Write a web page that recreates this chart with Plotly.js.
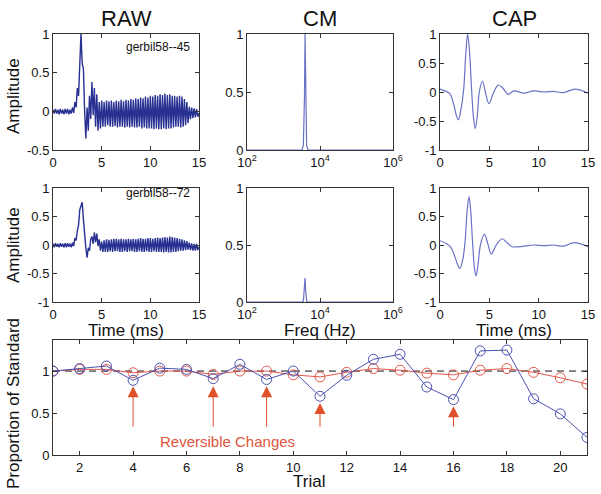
<!DOCTYPE html>
<html>
<head>
<meta charset="utf-8">
<script src="https://cdn.plot.ly/plotly-3.0.1.min.js"></script>
<style>
  html, body { margin: 0; padding: 0; background: #fff; }
  #chart { width: 601px; height: 494px; }
</style>
</head>
<body>
<div id="chart"></div>
<script>
// ---- data ----

// RAW recordings, sampled every 0.125 ms from 0 to 15 ms
var rawStep = 0.125;
var raw45 = [
  0.02, -0.03, 0.03, -0.03, 0.02, -0.04, 0.03, -0.03,
  0.02, -0.04, 0.03, -0.03, 0.03, -0.04, 0.02, -0.03,
  0.05, -0.02, 0.12, 0.05, 0.30, 0.20, 0.60, 1.00,
  0.62, 0.55, 0.00, -0.35, 0.05, -0.25, 0.20, -0.10,
  0.38, -0.05, 0.30, -0.20, 0.22, -0.25, 0.12, -0.22,
  0.14, -0.20, 0.12, -0.20, 0.14, -0.18, 0.13, -0.20,
  0.14, -0.20, 0.12, -0.19, 0.14, -0.21, 0.13, -0.20,
  0.15, -0.20, 0.13, -0.21, 0.15, -0.20, 0.14, -0.21,
  0.16, -0.20, 0.15, -0.21, 0.17, -0.21, 0.16, -0.20,
  0.18, -0.22, 0.17, -0.21, 0.19, -0.22, 0.18, -0.22,
  0.20, -0.22, 0.19, -0.23, 0.21, -0.22, 0.20, -0.23,
  0.22, -0.23, 0.21, -0.22, 0.23, -0.23, 0.21, -0.22,
  0.22, -0.22, 0.20, -0.21, 0.20, -0.20, 0.19, -0.20,
  0.20, -0.21, 0.19, -0.20, 0.16, -0.18, 0.12, -0.15,
  0.06, -0.10, 0.05, -0.09, 0.04, -0.08, 0.03, -0.07,
  -0.02
];
var raw72 = [
  0.02, -0.04, 0.03, -0.03, 0.02, -0.04, 0.03, -0.03,
  0.02, -0.04, 0.03, -0.04, 0.03, -0.03, 0.02, -0.04,
  0.04, -0.02, 0.12, 0.08, 0.25, 0.35, 0.62, 0.68,
  0.75, 0.45, 0.15, -0.05, -0.22, -0.05, -0.10, 0.10,
  0.15, 0.02, 0.22, 0.05, 0.20, -0.02, 0.10, -0.10,
  0.06, -0.12, 0.08, -0.12, 0.10, -0.12, 0.09, -0.11,
  0.10, -0.12, 0.11, -0.11, 0.11, -0.11, 0.10, -0.12,
  0.11, -0.12, 0.10, -0.11, 0.10, -0.12, 0.11, -0.11,
  0.10, -0.11, 0.11, -0.12, 0.10, -0.12, 0.11, -0.11,
  0.12, -0.12, 0.11, -0.12, 0.11, -0.11, 0.12, -0.12,
  0.12, -0.12, 0.11, -0.11, 0.12, -0.12, 0.13, -0.12,
  0.12, -0.12, 0.13, -0.13, 0.14, -0.12, 0.13, -0.13,
  0.15, -0.13, 0.14, -0.12, 0.13, -0.12, 0.12, -0.11,
  0.11, -0.10, 0.10, -0.10, 0.08, -0.09, 0.07, -0.08,
  0.04, -0.09, 0.03, -0.10, 0.02, -0.10, 0.02, -0.09,
  -0.03
];

// CM spectra
var cmFreq = [100, 3200, 3500, 3750, 3900, 4050, 4300, 4700, 1000000];
var cm45 = [0, 0, 0.04, 0.45, 1.00, 0.45, 0.04, 0, 0];
var cm72 = [0, 0, 0.01, 0.10, 0.21, 0.10, 0.01, 0, 0];

// CAP waveforms
var cap45Time = [0, 0.5, 1.0, 1.4, 1.65, 1.86, 2.1, 2.4, 2.6, 2.8, 3.0, 3.2, 3.4, 3.58, 3.8, 3.98, 4.3, 4.6, 4.96, 5.4, 5.9, 6.4, 6.9, 7.5, 8.5, 9.5, 10.5, 11.5, 12.5, 13.7, 15];
var cap45 = [0.05, 0.02, -0.03, -0.22, -0.4, -0.48, -0.32, 0.05, 0.62, 1.0, 0.68, 0.05, -0.45, -0.63, -0.38, 0.0, 0.19, 0.0, -0.2, -0.02, 0.12, 0.06, -0.04, 0.02, -0.02, 0.02, 0.0, 0.01, -0.01, 0.05, -0.02];
var cap72Time = [0, 1.0, 1.5, 1.75, 2.0, 2.25, 2.5, 2.75, 2.94, 3.1, 3.3, 3.5, 3.65, 3.85, 4.1, 4.5, 4.85, 5.2, 5.7, 6.3, 6.8, 7.3, 8.5, 9.5, 10.5, 11.5, 12.5, 13.6, 15];
var cap72 = [0.075, -0.02, -0.2, -0.33, -0.41, -0.3, -0.02, 0.6, 0.85, 0.62, 0.05, -0.42, -0.54, -0.35, 0.0, 0.19, 0.02, -0.16, 0.0, 0.11, 0.04, -0.03, -0.02, 0.0, -0.01, 0.0, -0.02, 0.04, -0.03];

// proportion of standard per trial
var trials = [1, 2, 3, 4, 5, 6, 7, 8, 9, 10, 11, 12, 13, 14, 15, 16, 17, 18, 19, 20, 21];
var capRatio = [1.0, 1.03, 1.06, 0.89, 1.035, 1.02, 0.91, 1.08, 0.90, 1.0, 0.70, 0.95, 1.14, 1.20, 0.81, 0.66, 1.24, 1.25, 0.67, 0.49, 0.21];
var cmRatio = [1.0, 1.02, 1.02, 0.98, 1.0, 1.0, 0.96, 1.0, 1.0, 0.955, 0.93, 0.985, 1.03, 1.01, 0.975, 0.955, 1.01, 1.03, 0.985, 0.92, 0.845];
var standardLevel = 1;

// arrows marking the reversible changes
var arrowTrials = [4, 7, 9, 11, 16];
var arrowTips = [0.82, 0.82, 0.82, 0.62, 0.58];
var arrowTail = 0.32;

// ---- helpers ----
function sampleTimes(values, step) {
  var t = [];
  for (var i = 0; i < values.length; i++) t.push(i * step);
  return t;
}

// px helpers, the figure is 601 x 494
var W = 601, H = 494;
function xdom(l, r) { return [l / W, r / W]; }
function ydom(top, bottom) { return [1 - bottom / H, 1 - top / H]; }

function boxAxis(extra) {
  var ax = {
    showline: true,
    linecolor: "#333",
    linewidth: 1,
    mirror: "ticks",
    ticks: "inside",
    ticklen: 4,
    tickcolor: "#333",
    showgrid: false,
    zeroline: false,
    tickfont: { size: 13, color: "#111" },
  };
  for (var k in extra) ax[k] = extra[k];
  return ax;
}

var rawColor = "#283092";
var lightBlue = "#6a72c6";

var data = [
  { x: sampleTimes(raw45, rawStep), y: raw45, xaxis: "x", yaxis: "y", mode: "lines", line: { color: rawColor, width: 1.4 } },
  { x: cmFreq, y: cm45, xaxis: "x2", yaxis: "y2", mode: "lines", line: { color: lightBlue, width: 1.2 } },
  { x: cap45Time, y: cap45, xaxis: "x3", yaxis: "y3", mode: "lines", line: { color: lightBlue, width: 1.2, shape: "spline", smoothing: 1 } },
  { x: sampleTimes(raw72, rawStep), y: raw72, xaxis: "x4", yaxis: "y4", mode: "lines", line: { color: rawColor, width: 1.4 } },
  { x: cmFreq, y: cm72, xaxis: "x5", yaxis: "y5", mode: "lines", line: { color: lightBlue, width: 1.2 } },
  { x: cap72Time, y: cap72, xaxis: "x6", yaxis: "y6", mode: "lines", line: { color: lightBlue, width: 1.2, shape: "spline", smoothing: 1 } },
  // standard line
  { x: [trials[0], trials[trials.length - 1]], y: [standardLevel, standardLevel], xaxis: "x7", yaxis: "y7", mode: "lines", line: { color: "#111", width: 1, dash: "7px,5px" } },
  { x: trials, y: cmRatio, xaxis: "x7", yaxis: "y7", mode: "lines+markers", line: { color: "#e0574a", width: 1 },
    marker: { symbol: "circle-open", size: 10, color: "#e0574a", line: { width: 1 } } },
  { x: trials, y: capRatio, xaxis: "x7", yaxis: "y7", mode: "lines+markers", line: { color: "#4a52b4", width: 1 },
    marker: { symbol: "circle-open", size: 10, color: "#4a52b4", line: { width: 1 } } },
];

var col1 = xdom(53, 199), col2 = xdom(247, 393), col3 = xdom(440, 588);
var row1 = ydom(34, 150), row2 = ydom(188, 302);

var timeTicks = { tickvals: [0, 5, 10, 15] };
var logTicks = { type: "log", range: [2, 6], tickvals: [100, 10000, 1000000],
  ticktext: ["10<sup>2</sup>", "10<sup>4</sup>", "10<sup>6</sup>"] };

var layout = {
  width: W,
  height: H,
  margin: { l: 0, r: 0, t: 0, b: 0 },
  paper_bgcolor: "#fff",
  plot_bgcolor: "#fff",
  showlegend: false,
  font: { family: "Liberation Sans, Arial, sans-serif", size: 13, color: "#111" },

  xaxis: boxAxis(Object.assign({ domain: col1, anchor: "y", range: [0, 15] }, timeTicks)),
  yaxis: boxAxis({ domain: row1, anchor: "x", range: [-0.5, 1], tickvals: [-0.5, 0, 0.5, 1], ticktext: ["-0.5", "0", "0.5", "1"] }),
  xaxis2: boxAxis(Object.assign({ domain: col2, anchor: "y2" }, logTicks)),
  yaxis2: boxAxis({ domain: row1, anchor: "x2", range: [0, 1], tickvals: [0, 0.5, 1] }),
  xaxis3: boxAxis(Object.assign({ domain: col3, anchor: "y3", range: [0, 15] }, timeTicks)),
  yaxis3: boxAxis({ domain: row1, anchor: "x3", range: [-1, 1], tickvals: [-1, -0.5, 0, 0.5, 1], ticktext: ["-1", "-0.5", "0", "0.5", "1"] }),

  xaxis4: boxAxis(Object.assign({ domain: col1, anchor: "y4", range: [0, 15] }, timeTicks)),
  yaxis4: boxAxis({ domain: row2, anchor: "x4", range: [-1, 1], tickvals: [-1, -0.5, 0, 0.5, 1], ticktext: ["-1", "-0.5", "0", "0.5", "1"] }),
  xaxis5: boxAxis(Object.assign({ domain: col2, anchor: "y5" }, logTicks)),
  yaxis5: boxAxis({ domain: row2, anchor: "x5", range: [0, 1], tickvals: [0, 0.5, 1] }),
  xaxis6: boxAxis(Object.assign({ domain: col3, anchor: "y6", range: [0, 15] }, timeTicks)),
  yaxis6: boxAxis({ domain: row2, anchor: "x6", range: [-1, 1], tickvals: [-1, -0.5, 0, 0.5, 1], ticktext: ["-1", "-0.5", "0", "0.5", "1"] }),

  xaxis7: boxAxis({ domain: xdom(53, 587), anchor: "y7", range: [1, 21], tickvals: [2, 4, 6, 8, 10, 12, 14, 16, 18, 20] }),
  yaxis7: boxAxis({ domain: ydom(340, 455), anchor: "x7", range: [0, 1.37], tickvals: [0, 0.5, 1] }),

  annotations: [],
};

// panel titles and labels
function paperText(text, px, py, size, angle, color) {
  return {
    text: text, xref: "paper", yref: "paper", x: px / W, y: 1 - py / H,
    xanchor: "center", yanchor: "middle", showarrow: false, textangle: angle || 0,
    font: { size: size, color: color || "#111" },
  };
}
layout.annotations.push(paperText("RAW", 126, 18, 22));
layout.annotations.push(paperText("CM", 320, 18, 22));
layout.annotations.push(paperText("CAP", 514, 18, 22));
layout.annotations.push(paperText("Amplitude", 13, 96, 17, -90));
layout.annotations.push(paperText("Amplitude", 13, 245, 17, -90));
layout.annotations.push(paperText("Proportion of Standard", 13, 404, 17, -90));
layout.annotations.push(paperText("Time (ms)", 126, 330, 17));
layout.annotations.push(paperText("Freq (Hz)", 320, 330, 17));
layout.annotations.push(paperText("Time (ms)", 514, 330, 17));
layout.annotations.push(paperText("Trial", 309, 481, 17));
layout.annotations.push(paperText("gerbil58--45", 158, 47, 12));
layout.annotations.push(paperText("gerbil58--72", 158, 193, 12));

// reversible change arrows
for (var i = 0; i < arrowTrials.length; i++) {
  layout.annotations.push({
    xref: "x7", yref: "y7", axref: "x7", ayref: "y7",
    x: arrowTrials[i], y: arrowTips[i], ax: arrowTrials[i], ay: arrowTail,
    text: "", showarrow: true, arrowhead: 2, arrowsize: 2.2, arrowwidth: 1,
    arrowcolor: "#e0502a",
  });
}
layout.annotations.push({
  xref: "x7", yref: "y7", x: 7.55, y: 0.16, text: "Reversible Changes", showarrow: false,
  font: { size: 15, color: "#e0553c" },
});

Plotly.newPlot("chart", data, layout, { displayModeBar: false, staticPlot: true });
</script>
</body>
</html>
